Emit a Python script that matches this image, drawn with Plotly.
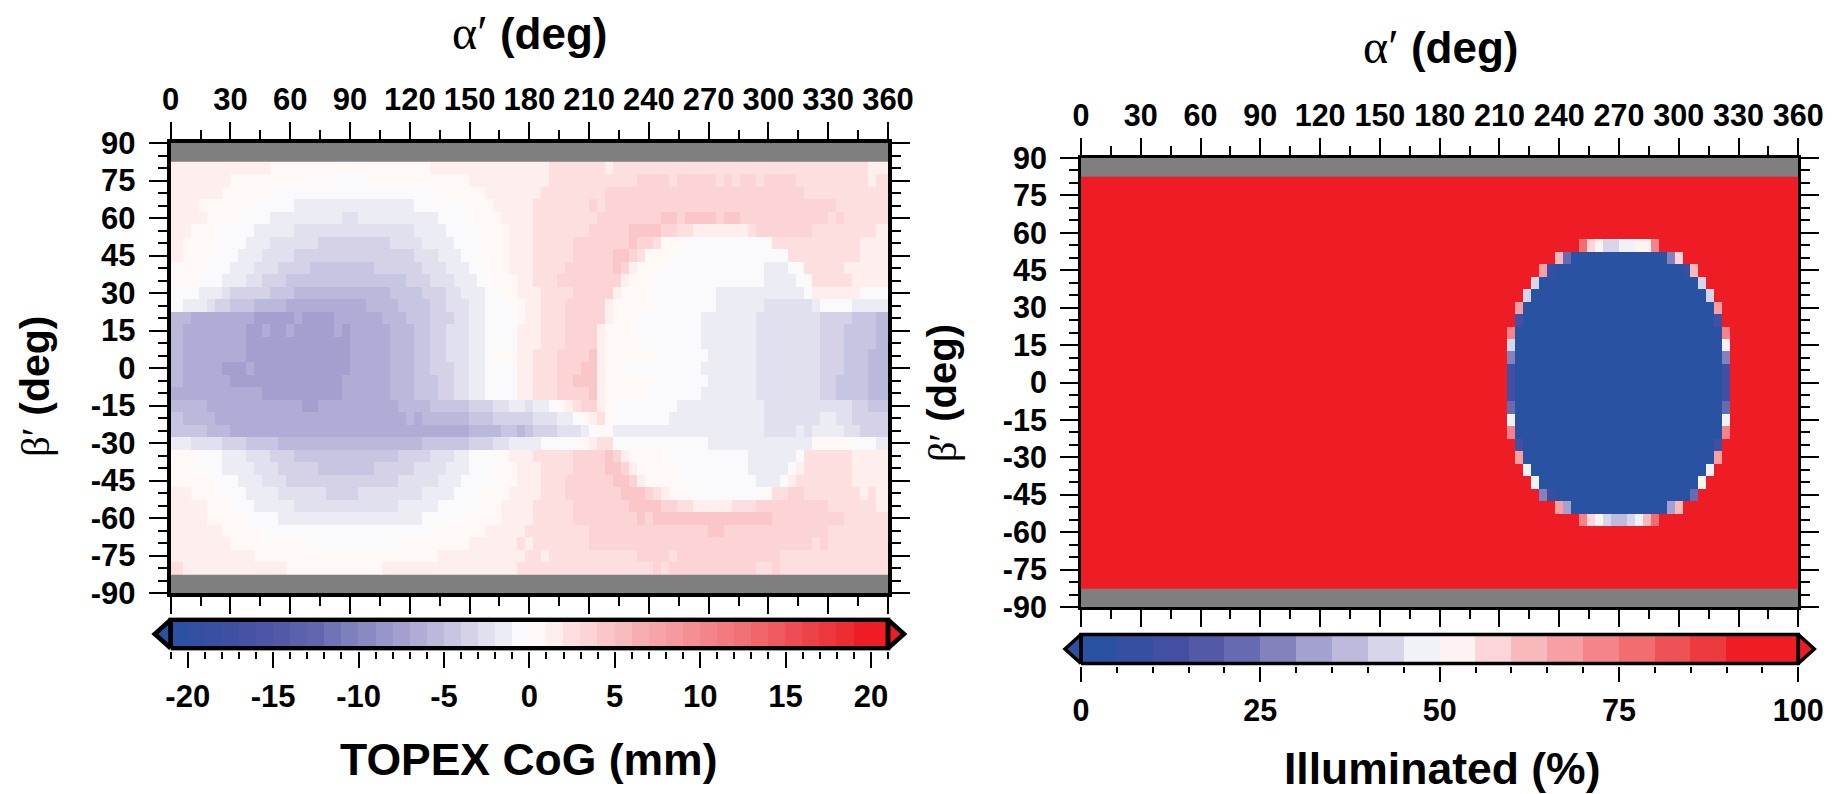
import plotly.graph_objects as go

W, H = 1837, 794

# ---------- data: axes ----------
alpha_deg = list(range(0, 361, 4))            # 91 columns
beta_deg = list(range(80, -81, -5))           # 33 rows, +-85/90 are empty (grey)
alpha_ticks = list(range(0, 361, 30))
alpha_minor = list(range(15, 360, 30))
beta_ticks = list(range(-90, 91, 15))
beta_minor = [b for b in range(-90, 91, 5) if b % 15]
cog_ticks = [-20, -15, -10, -5, 0, 5, 10, 15, 20]
cog_bands = [v + 0.5 for v in range(-21, 21)]
ill_ticks = [0, 25, 50, 75, 100]
ill_bands = [v + 2.5 for v in range(0, 100, 5)]

# ---------- data: TOPEX CoG (mm), one line per beta row, (value, end column) ----------
cog_runs = [
 [(1.5,13),(.5,33),(1.5,48),(2.5,55),(1.5,56),(2.5,88),(1.5,91)],
 [(1.5,8),(.5,18),(-.5,19),(.5,20),(-.5,25),(.5,38),(1.5,48),(2.5,59),(3.5,63),(2.5,64),(3.5,69),(2.5,70),(3.5,71),(2.5,72),(3.5,74),(2.5,75),(3.5,79),(2.5,88),(1.5,89),(2.5,91)],
 [(1.5,7),(.5,13),(-.5,34),(.5,40),(1.5,47),(2.5,55),(3.5,80),(2.5,91)],
 [(1.5,4),(.5,11),(-.5,16),(-1.5,31),(-.5,37),(.5,41),(1.5,46),(2.5,53),(3.5,54),(2.5,55),(3.5,84),(2.5,91)],
 [(1.5,5),(.5,9),(-.5,13),(-1.5,22),(-2.5,24),(-1.5,34),(-.5,38),(.5,42),(1.5,46),(2.5,54),(3.5,62),(4.5,64),(3.5,65),(4.5,69),(3.5,70),(4.5,72),(3.5,83),(2.5,84),(3.5,85),(2.5,91)],
 [(1.5,3),(.5,7),(-.5,11),(-1.5,16),(-2.5,31),(-1.5,35),(-.5,39),(.5,43),(1.5,46),(2.5,53),(3.5,58),(4.5,62),(3.5,64),(2.5,66),(1.5,73),(2.5,74),(3.5,81),(2.5,89),(1.5,91)],
 [(1.5,2),(.5,6),(-.5,10),(-1.5,13),(-2.5,19),(-3.5,28),(-2.5,32),(-1.5,36),(-.5,40),(.5,43),(1.5,46),(2.5,51),(3.5,58),(4.5,59),(3.5,61),(2.5,62),(.5,65),(-.5,75),(.5,76),(2.5,87),(1.5,91)],
 [(1.5,2),(.5,5),(-.5,9),(-1.5,12),(-2.5,16),(-3.5,31),(-2.5,34),(-1.5,37),(-.5,39),(.5,43),(1.5,46),(2.5,51),(3.5,56),(4.5,58),(3.5,59),(2.5,60),(.5,64),(-.5,78),(2.5,87),(1.5,91)],
 [(.5,5),(-.5,8),(-1.5,11),(-2.5,14),(-3.5,18),(-4.5,26),(-3.5,32),(-2.5,35),(-1.5,38),(-.5,40),(.5,43),(1.5,46),(2.5,50),(3.5,56),(4.5,57),(3.5,58),(1.5,59),(.5,62),(-.5,75),(-1.5,78),(-.5,79),(.5,80),(2.5,85),(1.5,91)],
 [(.5,4),(-.5,7),(-1.5,10),(-2.5,12),(-3.5,15),(-4.5,30),(-3.5,33),(-2.5,36),(-1.5,39),(-.5,41),(.5,44),(1.5,46),(2.5,49),(3.5,57),(1.5,58),(.5,61),(-.5,75),(-1.5,79),(-.5,80),(.5,81),(2.5,86),(1.5,91)],
 [(-.5,4),(-1.5,7),(-2.5,8),(-3.5,13),(-4.5,16),(-5.5,28),(-4.5,32),(-3.5,35),(-2.5,37),(-1.5,40),(-.5,42),(.5,44),(1.5,47),(2.5,51),(3.5,56),(1.5,57),(.5,61),(-.5,69),(-1.5,80),(-.5,81),(1.5,87),(-.5,91)],
 [(-.5,2),(-1.5,5),(-2.5,6),(-3.5,8),(-4.5,11),(-5.5,15),(-6.5,25),(-5.5,29),(-4.5,33),(-3.5,35),(-2.5,38),(-1.5,40),(-.5,43),(.5,45),(1.5,47),(2.5,50),(3.5,55),(1.5,56),(.5,61),(-.5,69),(-1.5,75),(-2.5,81),(-1.5,82),(-.5,86),(-1.5,91)],
 [(-5.5,3),(-6.5,11),(-7.5,16),(-6.5,17),(-7.5,21),(-6.5,27),(-5.5,30),(-4.5,33),(-3.5,36),(-2.5,38),(-1.5,40),(-.5,44),(.5,45),(1.5,47),(2.5,50),(3.5,55),(1.5,56),(.5,59),(-.5,67),(-1.5,74),(-2.5,82),(-3.5,86),(-4.5,89),(-5.5,91)],
 [(-5.5,2),(-6.5,10),(-7.5,12),(-6.5,13),(-7.5,15),(-6.5,16),(-7.5,21),(-6.5,22),(-7.5,23),(-6.5,28),(-5.5,31),(-4.5,33),(-3.5,35),(-2.5,38),(-1.5,40),(-.5,44),(1.5,47),(2.5,50),(3.5,54),(1.5,55),(.5,59),(-.5,67),(-1.5,74),(-2.5,82),(-3.5,85),(-4.5,89),(-5.5,91)],
 [(-5.5,2),(-6.5,10),(-7.5,23),(-6.5,28),(-5.5,31),(-4.5,33),(-3.5,35),(-2.5,38),(-1.5,40),(-.5,44),(1.5,47),(2.5,50),(3.5,54),(1.5,55),(.5,59),(-.5,67),(-1.5,74),(-2.5,82),(-3.5,85),(-4.5,89),(-5.5,91)],
 [(-5.5,2),(-6.5,10),(-7.5,23),(-6.5,28),(-5.5,31),(-4.5,33),(-3.5,35),(-2.5,38),(-1.5,40),(-.5,41),(.5,44),(1.5,46),(2.5,49),(3.5,53),(4.5,54),(1.5,55),(.5,61),(-.5,68),(-1.5,74),(-2.5,82),(-3.5,85),(-4.5,88),(-5.5,91)],
 [(-5.5,2),(-6.5,7),(-7.5,10),(-6.5,11),(-7.5,23),(-6.5,28),(-5.5,31),(-4.5,33),(-3.5,36),(-2.5,38),(-1.5,40),(-.5,44),(1.5,46),(2.5,49),(3.5,52),(4.5,54),(1.5,55),(.5,57),(-.5,67),(-1.5,74),(-2.5,82),(-3.5,85),(-4.5,88),(-5.5,91)],
 [(-5.5,2),(-6.5,8),(-7.5,22),(-6.5,28),(-5.5,31),(-4.5,34),(-3.5,36),(-2.5,38),(-1.5,40),(-.5,44),(1.5,46),(2.5,49),(3.5,51),(4.5,54),(1.5,55),(.5,61),(-.5,68),(-1.5,74),(-2.5,82),(-3.5,84),(-4.5,88),(-5.5,91)],
 [(-6.5,12),(-7.5,22),(-6.5,28),(-5.5,31),(-4.5,34),(-3.5,36),(-2.5,38),(-1.5,40),(-.5,44),(1.5,46),(2.5,49),(3.5,53),(4.5,54),(1.5,55),(.5,60),(-.5,67),(-1.5,74),(-2.5,82),(-3.5,84),(-4.5,88),(-5.5,91)],
 [(-5.5,5),(-6.5,17),(-7.5,19),(-6.5,29),(-5.5,33),(-4.5,38),(-3.5,41),(-2.5,43),(-1.5,45),(-2.5,46),(-1.5,48),(-.5,49),(.5,50),(1.5,51),(2.5,52),(3.5,54),(1.5,55),(.5,56),(-.5,64),(-1.5,75),(-2.5,86),(-3.5,88),(-4.5,91)],
 [(-4.5,2),(-5.5,6),(-6.5,30),(-5.5,31),(-6.5,32),(-5.5,38),(-4.5,41),(-3.5,46),(-2.5,49),(-1.5,51),(-.5,52),(.5,53),(1.5,54),(2.5,55),(.5,56),(-.5,63),(-1.5,75),(-2.5,82),(-1.5,84),(-2.5,86),(-3.5,91)],
 [(-4.5,5),(-5.5,8),(-6.5,38),(-5.5,42),(-4.5,44),(-5.5,45),(-4.5,46),(-3.5,49),(-2.5,52),(-1.5,53),(-.5,54),(.5,56),(-1.5,75),(-2.5,79),(-1.5,80),(-2.5,81),(-1.5,85),(-2.5,87),(-3.5,91)],
 [(-1.5,3),(-2.5,7),(-3.5,10),(-4.5,14),(-5.5,32),(-4.5,38),(-3.5,41),(-2.5,43),(-1.5,47),(-.5,51),(.5,53),(1.5,54),(2.5,56),(-.5,68),(-1.5,81),(.5,86),(-.5,89),(-1.5,91)],
 [(.5,4),(-.5,7),(-1.5,10),(-2.5,13),(-3.5,16),(-4.5,29),(-3.5,33),(-2.5,36),(-1.5,38),(-.5,41),(.5,43),(1.5,46),(2.5,51),(3.5,55),(4.5,56),(3.5,57),(1.5,58),(.5,63),(-.5,73),(-1.5,79),(-.5,80),(2.5,86),(1.5,91)],
 [(.5,4),(-.5,7),(-1.5,11),(-2.5,14),(-3.5,19),(-4.5,26),(-3.5,31),(-2.5,35),(-1.5,38),(-.5,41),(.5,44),(1.5,47),(2.5,51),(3.5,55),(4.5,57),(3.5,58),(1.5,59),(.5,64),(-.5,73),(-1.5,78),(-.5,79),(1.5,80),(2.5,86),(1.5,91)],
 [(.5,6),(-.5,9),(-1.5,12),(-2.5,15),(-3.5,29),(-2.5,34),(-1.5,37),(-.5,41),(.5,44),(1.5,47),(2.5,50),(3.5,56),(4.5,58),(3.5,59),(1.5,60),(.5,64),(-.5,74),(-1.5,77),(-.5,78),(1.5,79),(2.5,86),(1.5,91)],
 [(1.5,3),(.5,7),(-.5,10),(-1.5,14),(-2.5,20),(-3.5,24),(-2.5,32),(-1.5,36),(-.5,39),(.5,43),(1.5,47),(2.5,50),(3.5,57),(4.5,60),(3.5,61),(2.5,62),(1.5,63),(.5,66),(-.5,75),(.5,76),(2.5,78),(3.5,80),(2.5,87),(1.5,88),(2.5,89),(1.5,91)],
 [(1.5,5),(.5,8),(-.5,11),(-1.5,16),(-2.5,29),(-1.5,34),(-.5,39),(.5,42),(1.5,46),(2.5,51),(3.5,58),(4.5,62),(3.5,64),(2.5,66),(1.5,71),(2.5,74),(3.5,83),(2.5,89),(1.5,91)],
 [(1.5,5),(.5,10),(-.5,14),(-1.5,32),(-.5,37),(.5,42),(1.5,46),(2.5,51),(3.5,59),(4.5,60),(3.5,61),(4.5,76),(3.5,85),(2.5,91)],
 [(1.5,7),(.5,12),(-.5,33),(.5,40),(1.5,45),(2.5,53),(3.5,68),(4.5,70),(3.5,83),(2.5,91)],
 [(1.5,8),(.5,18),(-.5,29),(.5,38),(1.5,44),(2.5,45),(1.5,46),(2.5,53),(3.5,81),(2.5,82),(3.5,83),(2.5,91)],
 [(1.5,11),(.5,34),(1.5,45),(2.5,47),(1.5,48),(2.5,59),(3.5,63),(2.5,64),(3.5,77),(2.5,91)],
 [(2.5,2),(1.5,15),(.5,27),(1.5,44),(2.5,61),(3.5,62),(2.5,63),(3.5,74),(2.5,76),(3.5,77),(2.5,91)],
]

# ---------- data: Illuminated (%), same layout ----------
ill_full = [(97.5, 91)]
ill_runs = [
 ill_full, ill_full, ill_full, ill_full, ill_full,
 [(97.5,63),(77.5,64),(57.5,65),(52.5,66),(42.5,68),(47.5,70),(52.5,72),(72.5,73),(97.5,91)],
 [(97.5,60),(62.5,61),(22.5,62),(2.5,74),(27.5,75),(57.5,76),(97.5,91)],
 [(97.5,58),(67.5,59),(7.5,60),(2.5,76),(7.5,77),(62.5,78),(97.5,91)],
 [(97.5,57),(42.5,58),(2.5,78),(42.5,79),(97.5,91)],
 [(97.5,56),(42.5,57),(2.5,79),(42.5,80),(97.5,91)],
 [(97.5,55),(67.5,56),(2.5,80),(67.5,81),(97.5,91)],
 [(97.5,55),(12.5,56),(2.5,80),(12.5,81),(97.5,91)],
 [(97.5,54),(72.5,55),(2.5,81),(72.5,82),(97.5,91)],
 [(97.5,54),(42.5,55),(2.5,81),(47.5,82),(97.5,91)],
 [(97.5,54),(27.5,55),(2.5,81),(27.5,82),(97.5,91)],
 [(97.5,54),(12.5,55),(2.5,81),(12.5,82),(97.5,91)],
 [(97.5,54),(12.5,55),(2.5,81),(12.5,82),(97.5,91)],
 [(97.5,54),(12.5,55),(2.5,81),(12.5,82),(97.5,91)],
 [(97.5,54),(22.5,55),(2.5,81),(22.5,82),(97.5,91)],
 [(97.5,54),(47.5,55),(2.5,81),(47.5,82),(97.5,91)],
 [(97.5,54),(72.5,55),(2.5,81),(72.5,82),(97.5,91)],
 [(97.5,55),(12.5,56),(2.5,80),(12.5,81),(97.5,91)],
 [(97.5,55),(67.5,56),(2.5,80),(67.5,81),(97.5,91)],
 [(97.5,56),(47.5,57),(2.5,79),(47.5,80),(97.5,91)],
 [(97.5,57),(47.5,58),(2.5,78),(52.5,79),(97.5,91)],
 [(97.5,58),(27.5,59),(7.5,60),(2.5,77),(22.5,78),(97.5,91)],
 [(97.5,60),(67.5,61),(32.5,62),(2.5,74),(32.5,75),(62.5,76),(97.5,91)],
 [(97.5,63),(72.5,64),(57.5,65),(52.5,66),(42.5,67),(37.5,69),(42.5,70),(47.5,71),(62.5,72),(77.5,73),(97.5,91)],
 ill_full, ill_full, ill_full, ill_full, ill_full,
]

# ---------- styling ----------
cog_colors = ["#2B52A2","#3250A2","#3950A2","#3F50A3","#4652A4","#4D55A6","#5359A7","#5C61AB","#6266AE","#7073B5","#7E80BB",
              "#8A8AC2","#9795C9","#A3A0CF","#AFADD6","#BAB8DB","#C7C6E2","#D5D2E8","#E0E0EE","#ECECF5","#FAFAFD",
              "#FEF8F7","#FEEEEE","#FDDFE0","#FCD4D5","#FAC6C8","#F8BBBD","#F7AEB1","#F6A4A7","#F59A9E","#F48F93","#F3858A",
              "#F27B80","#F17276","#F0666B","#EF5A5F","#EE4E53","#ED4348","#EC383D","#EC2D32","#EE1C25","#EE1C25"]
ill_colors = ["#2A52A2","#364FA0","#434FA3","#5358A7","#666AB1","#8482BC","#A3A1CE","#BDBADB","#D6D5E9","#F1F1F8",
              "#FDF3F3","#FBD5D9","#F7B9BC","#F6A0A3","#F48489","#F16D70","#EF5256","#EC3A3E","#EE1C25","#EE1C25"]
GREY = "#7F7F7F"
SANS = "Liberation Sans"
SERIF = "Liberation Serif"


def expand(runs):
    row, start = [], 0
    for value, end in runs:
        row += [value] * (end - start)
        start = end
    return row


def stepped(colors):
    n = len(colors)
    scale = []
    for k, c in enumerate(colors):
        scale += [[k / n, c], [(k + 1) / n, c]]
    return scale


def px_x(x0, x1):
    return [x0 / W, x1 / W]


def px_y(y0, y1):
    return [1 - y1 / H, 1 - y0 / H]


fig = go.Figure()

panels = [
    dict(n=1, runs=cog_runs, colors=cog_colors, lo=-21, hi=21, band=cog_bands, step=1, ticks=cog_ticks,
         x=(170.7, 888), y=(143, 593), bar=(619.7, 648.3), major=18.4, minor=9.7, lw=4, tw=2, bl=4.5, fs=31),
    dict(n=3, runs=ill_runs, colors=ill_colors, lo=0, hi=100, band=ill_bands, step=5, ticks=ill_ticks,
         x=(1081, 1798.3), y=(158, 607), bar=(634.5, 663.5), major=17.5, minor=8.5, lw=3, tw=1.8, bl=3.5, fs=30.5),
]

BAR_GAP = 2.5  # blank pixels above and below a bar so that its frame is not clipped
layout = {}
shapes = []
for p in panels:
    n = p["n"]; m = n + 1
    xa = "x" if n == 1 else f"x{n}"
    ya = "y" if n == 1 else f"y{n}"
    xb, yb = f"x{m}", f"y{m}"
    ax_x = "xaxis" if n == 1 else f"xaxis{n}"
    ax_y = "yaxis" if n == 1 else f"yaxis{n}"
    scale = stepped(p["colors"])
    # the empty rows at beta beyond +-82.5 show this grey
    shapes.append(dict(type="rect", xref=f"{xa} domain", yref=f"{ya} domain", x0=0, x1=1, y0=0, y1=1,
                       fillcolor=GREY, line_width=0, layer="below"))
    fig.add_trace(go.Heatmap(x=alpha_deg, y=beta_deg, z=[expand(r) for r in p["runs"]],
                             colorscale=scale, zmin=p["lo"], zmax=p["hi"], showscale=False,
                             xaxis=xa, yaxis=ya))
    fig.add_trace(go.Heatmap(x=p["band"], y=[0.5], z=[p["band"]], colorscale=scale, zmin=p["lo"], zmax=p["hi"],
                             showscale=False, xaxis=xb, yaxis=yb))
    # colour bar frame and end triangles (in the bar's own data units)
    per_px = (p["hi"] - p["lo"]) / (p["x"][1] - p["x"][0])
    bar_h = p["bar"][1] - p["bar"][0]
    tip = 16 * per_px
    gap = BAR_GAP / bar_h
    fig.add_trace(go.Scatter(x=[p["lo"], p["lo"] - tip, p["lo"], p["lo"]], y=[0, 0.5, 1, 0], mode="lines",
                             fill="toself", fillcolor=p["colors"][0], line=dict(color="black", width=p["bl"]),
                             cliponaxis=False, hoverinfo="skip", showlegend=False, xaxis=xb, yaxis=yb))
    fig.add_trace(go.Scatter(x=[p["hi"], p["hi"] + tip, p["hi"], p["hi"]], y=[0, 0.5, 1, 0], mode="lines",
                             fill="toself", fillcolor=p["colors"][-1], line=dict(color="black", width=p["bl"]),
                             cliponaxis=False, hoverinfo="skip", showlegend=False, xaxis=xb, yaxis=yb))
    fig.add_trace(go.Scatter(x=[p["lo"], p["hi"], p["hi"], p["lo"], p["lo"]], y=[0, 0, 1, 1, 0], mode="lines",
                             line=dict(color="black", width=p["bl"]), cliponaxis=False, hoverinfo="skip",
                             showlegend=False, xaxis=xb, yaxis=yb))
    tick_font = dict(family=SANS, size=p["fs"], color="black", weight=700)
    layout[ax_x] = dict(domain=px_x(*p["x"]), range=[0, 360], anchor=ya, side="top", showgrid=False, zeroline=False,
                        automargin=False, showline=True, linecolor="black", linewidth=p["lw"], mirror="allticks",
                        ticks="outside", ticklen=17, tickwidth=p["tw"], tickcolor="black", tickmode="array",
                        tickvals=alpha_ticks, ticktext=[str(v) for v in alpha_ticks], tickfont=tick_font, tickangle=0,
                        minor=dict(tickmode="array", tickvals=alpha_minor, ticks="outside", ticklen=9,
                                   tickwidth=p["tw"], tickcolor="black", showgrid=False))
    layout[ax_y] = dict(domain=px_y(*p["y"]), range=[-90, 90], anchor=xa, showgrid=False, zeroline=False,
                        automargin=False, showline=True, linecolor="black", linewidth=p["lw"], mirror="allticks",
                        ticks="outside", ticklen=18, tickwidth=p["tw"], tickcolor="black", tickmode="array",
                        tickvals=beta_ticks, ticktext=[str(v) for v in beta_ticks], tickfont=tick_font,
                        ticklabelstandoff=7,
                        minor=dict(tickmode="array", tickvals=beta_minor, ticks="outside", ticklen=9,
                                   tickwidth=p["tw"], tickcolor="black", showgrid=False))
    pad = 24 * per_px
    layout[f"xaxis{m}"] = dict(domain=px_x(p["x"][0] - 24, p["x"][1] + 24), range=[p["lo"] - pad, p["hi"] + pad], anchor=yb,
                               side="bottom", automargin=False, showgrid=False, zeroline=False, showline=False,
                               ticks="outside", ticklen=p["major"] - BAR_GAP, tickwidth=p["tw"], tickcolor="black",
                               tickmode="array", tickvals=p["ticks"], ticktext=[str(v) for v in p["ticks"]],
                               tickfont=tick_font, tickangle=0, ticklabelstandoff=2,
                               minor=dict(tickmode="array",
                                          tickvals=[p["lo"] + k * p["step"] for k in range(len(p["band"]) + 1)
                                                    if p["lo"] + k * p["step"] not in p["ticks"]],
                                          ticks="outside", ticklen=p["minor"] - BAR_GAP, tickwidth=p["tw"], tickcolor="black",
                                          showgrid=False))
    layout[f"yaxis{m}"] = dict(domain=px_y(p["bar"][0] - BAR_GAP, p["bar"][1] + BAR_GAP), range=[-gap, 1 + gap], anchor=xb,
                               visible=False, fixedrange=True, automargin=False)


def title_x(x, y, size):
    return dict(text=f'<span style="font-family:{SERIF};font-weight:normal;font-size:{size + 4}px">α′</span> <b>(deg)</b>',
                x=x / W, y=1 - y / H, xref="paper", yref="paper", showarrow=False, xanchor="center", yanchor="middle",
                font=dict(family=SANS, size=size, color="black"))


def title_y(x, y, size):
    return dict(text=f'<span style="font-family:{SERIF};font-weight:normal">β′</span> <b>(deg)</b>',
                x=x / W, y=1 - y / H, xref="paper", yref="paper", showarrow=False, xanchor="center", yanchor="middle",
                textangle=-90, font=dict(family=SANS, size=size, color="black"))


def title_bar(text, x, y, size):
    return dict(text=f"<b>{text}</b>", x=x / W, y=1 - y / H, xref="paper", yref="paper", showarrow=False,
                xanchor="center", yanchor="middle", font=dict(family=SANS, size=size, color="black"))


fig.update_layout(
    template="none", width=W, height=H, margin=dict(l=0, r=0, t=0, b=0, pad=0), paper_bgcolor="white",
    plot_bgcolor="white", showlegend=False, shapes=shapes,
    annotations=[
        title_x(529, 32, 44), title_x(1440, 47, 44),
        title_y(35, 387, 41), title_y(942, 393, 40),
        title_bar("TOPEX CoG (mm)", 528, 759, 44.5), title_bar("Illuminated (%)", 1442, 768, 44.5),
    ],
    **layout,
)

fig.write_html("out.html", post_script="document.body.style.margin='0';document.body.style.overflow='hidden';",
               config=dict(displayModeBar=False))
